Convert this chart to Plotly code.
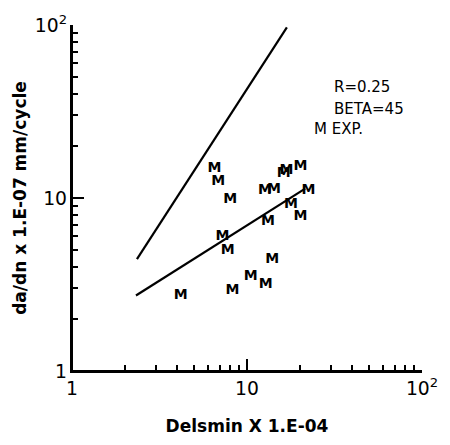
import plotly.graph_objects as go

# Experimental points (Delsmin x 1E-04, da/dn x 1E-07 mm/cycle)
exp_x = [4.18, 6.51, 6.84, 8.01, 7.24, 7.77, 8.25, 10.49, 12.78, 13.95,
         12.66, 14.28, 13.16, 16.2, 16.8, 20.24, 22.46, 17.83, 20.21]
exp_y = [2.73, 14.76, 12.5, 9.79, 6.01, 4.94, 2.92, 3.52, 3.17, 4.43,
         11.1, 11.16, 7.36, 13.9, 14.4, 15.26, 11.11, 9.23, 7.78]

# Upper (model) line
upper_x = [2.35, 16.9]
upper_y = [4.43, 97.0]

# Lower (fit) line
lower_x = [2.32, 21.5]
lower_y = [2.73, 11.33]

# Axis range in decades (log10): 1 .. 10^2
axis_range = [0, 2]

FONT = "DejaVu Sans"

fig = go.Figure()
fig.add_trace(go.Scatter(x=upper_x, y=upper_y, mode="lines",
                         line=dict(color="black", width=2.2), showlegend=False))
fig.add_trace(go.Scatter(x=lower_x, y=lower_y, mode="lines",
                         line=dict(color="black", width=2.2), showlegend=False))
fig.add_trace(go.Scatter(x=exp_x, y=exp_y, mode="text", text=["M"] * len(exp_x),
                         textposition="middle center",
                         textfont=dict(family=FONT, size=14, color="black", weight="bold"),
                         showlegend=False))

def axis_style():
    return dict(
        type="log", range=axis_range, dtick=1,
        exponentformat="power",
        showline=True, linecolor="black", linewidth=2,
        ticks="inside", ticklen=12, tickwidth=2, tickcolor="black",
        minor=dict(ticks="inside", ticklen=6, tickwidth=1.5, tickcolor="black"),
        tickfont=dict(family=FONT, size=15, color="black"),
    )

fig.update_layout(
    width=450, height=445,
    margin=dict(l=72, r=22, t=23, b=73),
    plot_bgcolor="white", paper_bgcolor="white",
    xaxis=dict(**axis_style(),
               title=dict(text="Delsmin X 1.E-04", standoff=22,
                          font=dict(family=FONT, size=17, color="black", weight="bold"))),
    yaxis=dict(**axis_style(),
               title=dict(text="da/dn x 1.E-07 mm/cycle", standoff=4,
                          font=dict(family=FONT, size=17, color="black", weight="bold"))),
    shapes=[
        dict(type="line", xref="paper", yref="paper", x0=0, x1=1, y0=0, y1=0,
             line=dict(color="black", width=2), layer="above"),
        dict(type="line", xref="paper", yref="paper", x0=0, x1=0, y0=0, y1=1,
             line=dict(color="black", width=2), layer="above"),
    ],
    annotations=[
        dict(text="R=0.25", x=0.742, y=0.82, xref="paper", yref="paper",
             xanchor="left", yanchor="middle", showarrow=False,
             font=dict(family=FONT, size=15, color="black")),
        dict(text="BETA=45", x=0.742, y=0.756, xref="paper", yref="paper",
             xanchor="left", yanchor="middle", showarrow=False,
             font=dict(family=FONT, size=15, color="black")),
        dict(text="M EXP.", x=0.685, y=0.699, xref="paper", yref="paper",
             xanchor="left", yanchor="middle", showarrow=False,
             font=dict(family=FONT, size=15, color="black")),
    ],
)

fig.write_html("out.html")
